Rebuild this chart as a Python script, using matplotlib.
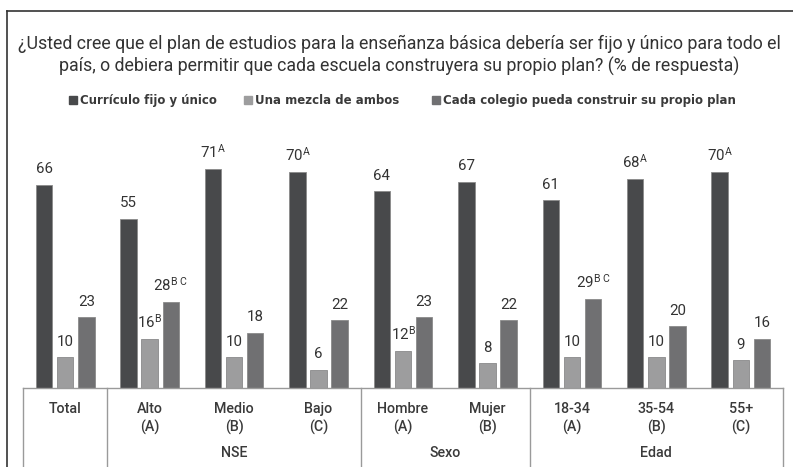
import matplotlib
matplotlib.use("Agg")
import matplotlib.pyplot as plt
import matplotlib.transforms as mtransforms
from matplotlib.lines import Line2D
from matplotlib.patches import Rectangle
import numpy as np

plt.rcParams['font.family'] = ['Roboto', 'DejaVu Sans']
plt.rcParams['mathtext.fontset'] = 'custom'
plt.rcParams['mathtext.rm'] = 'Roboto'
plt.rcParams['mathtext.it'] = 'Roboto'
plt.rcParams['mathtext.bf'] = 'Roboto:bold'

# ---- data ----
categories = ["Total", "Alto", "Medio", "Bajo", "Hombre", "Mujer", "18-34", "35-54", "55+"]
sub_labels = ["", "(A)", "(B)", "(C)", "(A)", "(B)", "(A)", "(B)", "(C)"]
groups = ["NSE", "Sexo", "Edad"]
group_spans = [(1, 3), (4, 5), (6, 8)]

series_names = ["Currículo fijo y único", "Una mezcla de ambos",
                "Cada colegio pueda construir su propio plan"]
fijo = [66, 55, 71, 70, 64, 67, 61, 68, 70]
mezcla = [10, 16, 10, 6, 12, 8, 10, 10, 9]
cada = [23, 28, 18, 22, 23, 22, 29, 20, 16]
fijo_sup = ["", "", "A", "A", "", "", "", "A", "A"]
mezcla_sup = ["", "B", "", "", "B", "", "", "", ""]
cada_sup = ["", "B C", "", "", "", "", "B C", "", ""]

colors = ["#48494b", "#9d9d9e", "#707072"]

W, H = 793, 467
fig = plt.figure(figsize=(W / 100, H / 100), dpi=100)
fig.patch.set_facecolor("white")

def fy(py):
    return 1 - py / H

def fx(px):
    return px / W

ax = fig.add_axes([fx(23), fy(388), fx(783) - fx(23), fy(150) - fy(388)])
ax.set_xlim(-0.5, len(categories) - 0.5)
ax.set_ylim(0, 238 / 3.08)
ax.axis("off")

x = np.arange(len(categories))
bw = 0.195
off = 0.25
all_vals = [fijo, mezcla, cada]
all_sups = [fijo_sup, mezcla_sup, cada_sup]
for i, (vals, sups) in enumerate(zip(all_vals, all_sups)):
    xs = x + (i - 1) * off
    ax.bar(xs, vals, width=bw, color=colors[i], edgecolor="#8a8a8a", linewidth=0.6)
    for xi, v, s in zip(xs, vals, sups):
        if s:
            lab = r"$\mathrm{%d}^{\mathrm{%s}}$" % (v, s.replace(" ", r"\ "))
        else:
            lab = str(v)
        ax.annotate(lab, (xi, v), xytext=(0, 6), textcoords="offset points",
                    ha="center", va="bottom", fontsize=10.8, color="#333333")

# baseline and separators
blend = mtransforms.blended_transform_factory(ax.transData, fig.transFigure)
line_col = "#9a9a9a"
fig.add_artist(Line2D([fx(23), fx(783)], [fy(388), fy(388)], color=line_col, lw=1.0))
for sx in [-0.5, 0.5, 3.5, 5.5, 8.5]:
    fig.add_artist(Line2D([sx, sx], [fy(388), 0], color=line_col, lw=1.0, transform=blend))

for xi, c, s in zip(x, categories, sub_labels):
    fig.text(xi, fy(409), c, transform=blend, ha="center", va="center",
             fontsize=10.3, color="#3a3a3a", fontweight="medium")
    if s:
        fig.text(xi, fy(427), s, transform=blend, ha="center", va="center",
                 fontsize=10.3, color="#3a3a3a", fontweight="medium")
for g, (a, b) in zip(groups, group_spans):
    fig.text((a + b) / 2, fy(453), g, transform=blend, ha="center", va="center",
             fontsize=10.3, color="#3a3a3a", fontweight="medium")

# outer border (left and top)
fig.add_artist(Line2D([fx(7), fx(7)], [0, fy(11)], color="#333333", lw=1.2))
fig.add_artist(Line2D([fx(7), 1], [fy(11), fy(11)], color="#333333", lw=1.2))

# title
fig.text(fx(399), fy(44), "¿Usted cree que el plan de estudios para la enseñanza básica debería ser fijo y único para todo el",
         ha="center", va="center", fontsize=12.8, color="#333333")
fig.text(fx(399), fy(66), "país, o debiera permitir que cada escuela construyera su propio plan? (% de respuesta)",
         ha="center", va="center", fontsize=12.8, color="#333333")

# legend
leg_sq_x = [69, 244, 432]
for name, col, sx in zip(series_names, colors, leg_sq_x):
    fig.add_artist(Rectangle((fx(sx), fy(104)), fx(8), 8 / H, color=col, transform=fig.transFigure))
    fig.text(fx(sx + 11), fy(100), name, ha="left", va="center", fontsize=8.5,
             color="#3a3a3a", fontweight="bold", family=["DejaVu Sans"])

fig.savefig("out.png", dpi=100, facecolor="white")
